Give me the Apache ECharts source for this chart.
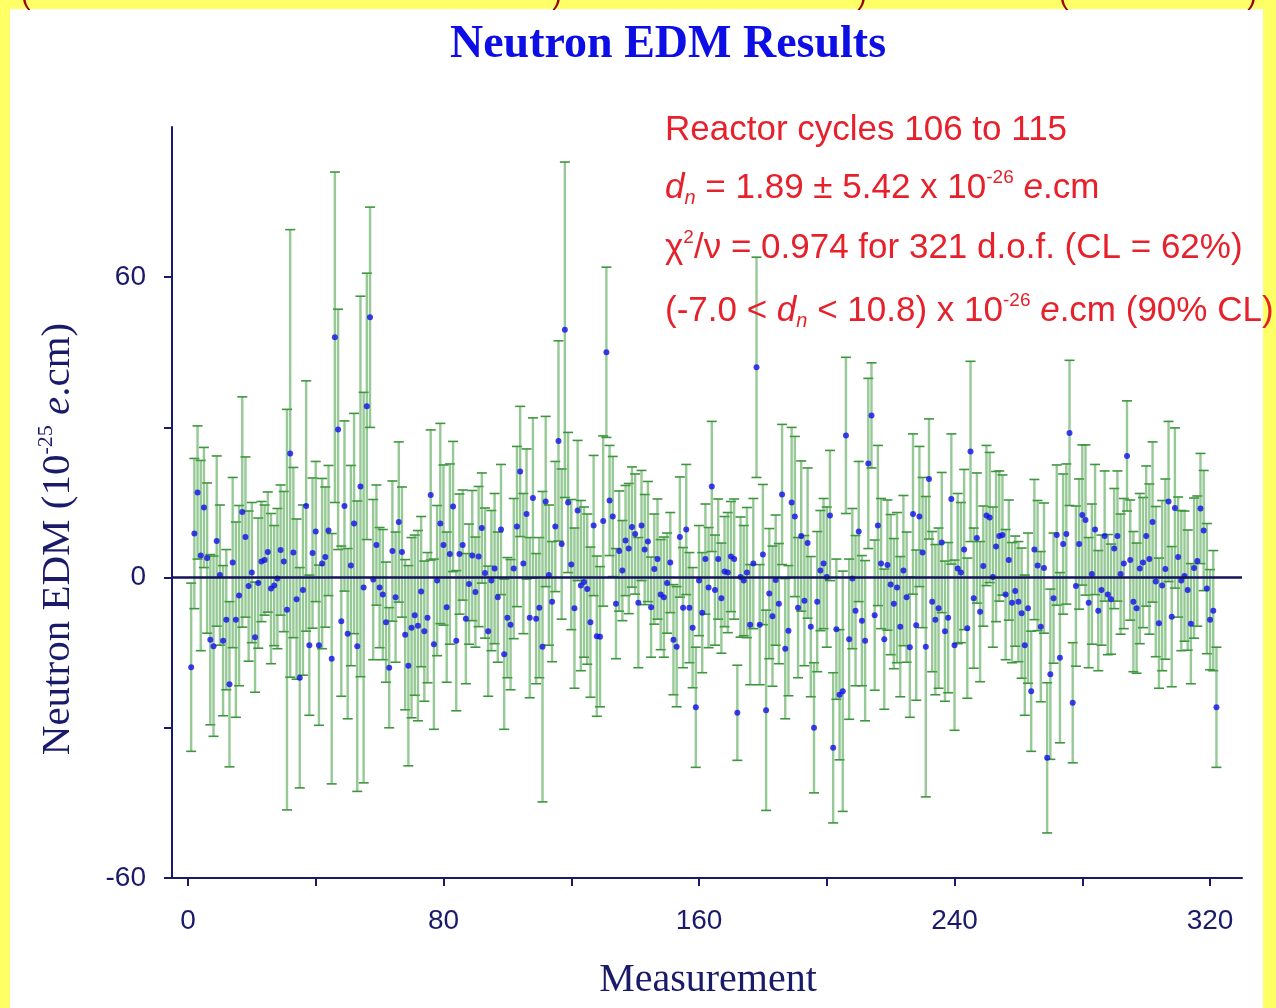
<!DOCTYPE html>
<html>
<head>
<meta charset="utf-8">
<script src="https://cdn.jsdelivr.net/npm/echarts@6/dist/echarts.min.js"></script>
<style>
  html, body { margin: 0; padding: 0; background: #ffff66; }
  #chart { width: 1276px; height: 1008px; }
</style>
</head>
<body>
<div id="chart"></div>
<script>
// Neutron EDM per measurement (units of 1e-25 e.cm), measurements 1..322
const edmValues = [
  -17.9, 8.8, 17, 4.4, 14, 3.9, -12.4, -13.7, 7.3, 0.5,
  -12.6, -8.4, -21.3, 3, -8.4, -3.6, 13.1, 8.1, -1.7, 1,
  -11.9, -1.1, 3.2, 3.5, 5.1, -2.2, -1.6, -0.2, 5.5, 3.2,
  -6.4, 24.8, 5, -4.3, -20, -2.5, 14.3, -13.5, 4.9, 9.2,
  -13.5, 2.8, 4.1, 9.4, -16.2, 48, 29.6, -8.7, 14.3, -11.2,
  2.4, 10.8, -13.7, 18.2, -2, 34.2, 52, -0.4, 6.5, -2,
  -3.4, -8.9, -18, 5.3, -3.9, 11.1, 5.1, -11.4, -17.6, -10,
  -7.5, -9.6, -2.8, -10.7, -8, 16.5, -13.3, -0.6, 10.8, 6.5,
  -5.9, 4.7, 14.2, -12.6, 4.7, 6.5, -8.2, -1.3, 4.4, -2.9,
  4.2, 9.9, 0.9, -10.7, -0.6, 1.8, -3.9, 9.6, -15.3, -8,
  -9.4, 1.8, 10.2, 21.2, 2.8, 12.7, -8, 15.9, -8.2, -6,
  -13.8, 15.2, 0.5, -4.8, 10.2, 27.3, 6.7, 49.5, 15, 2.6,
  -6.1, 13.4, -1.6, -0.9, -2.3, -8.9, 10.4, -11.7, -11.8, 11.3,
  45, 15.4, 12.2, -5.2, 5.3, 1.4, 7.4, 5.8, 10.1, 8.7,
  -5, 10.4, 5.6, 7.2, -5.9, 1.7, 3.7, -3.4, -3.9, -1.1,
  3, -12.4, -13.8, 8.1, -6, 9.6, -6, -10, -25.9, -0.6,
  -7, 3.7, -2, 18.2, -2.5, 3.7, -4.1, 1.2, 1, 4.2,
  3.7, -27, 0.1, -0.6, 1, -9.4, 2.8, 42, -9.4, 4.6,
  -26.5, -3.2, -7.7, -0.5, -5.2, 16.6, -14.2, -10.6, 15, 12.2,
  -6, 8.3, -4.6, 6.9, -9.8, -30, -4.8, 1.4, 2.8, 0.1,
  12.4, -34, -10.3, -23.4, -22.7, 28.4, -12.3, -0.2, -6.6, 9.2,
  -8.6, -12.6, 22.8, 32.4, -7.5, 10.4, 2.8, -12.3, 2.5, -1.4,
  -5.2, -2, -9.8, 1.4, -3.9, -13.9, 12.7, -9.5, 12.2, 5,
  -13.8, 19.7, -4.8, -8.4, -6.1, 7, -10.7, -8, 15.7, -13.5,
  1.8, 1, 5.6, -10.1, 25.2, -4.1, 7.9, -6.8, 2.3, 12.4,
  12, 0.1, 6.2, 8.3, 8.5, -3.4, 3.5, -5, -2.7, -4.8,
  -7.1, -13.5, -6.1, -22.7, 5.6, 2.4, -9.8, 1.9, -36, -19.3,
  -4.1, 8.5, -16, 6.7, 8.7, 28.9, -25, -1.7, 6.7, 12.5,
  11.5, -5, 0.7, 9.6, -6.6, -2.5, 8.3, -3.4, -4.3, 5.8,
  8.3, 0.7, 2.8, 24.3, 3.5, -4.8, -6.1, 1.8, 3, 8.3,
  3.7, 11.1, -0.8, -9.1, -1.6, 1.7, 15.2, -7.8, 13.9, 4.1,
  -0.6, 0.3, -2.5, -9.2, 1.9, 3.3, 13.8, 9.4, -2.2, -8.4,
  -6.6, -25.9
];

// One-sigma uncertainty of each measurement (same units)
const edmErrors = [
  16.8, 15, 13.3, 19, 12, 15, 17, 18, 17, 14,
  15, 14, 16.5, 17, 19.5, 18, 23, 16, 15, 14,
  11, 13, 12, 11, 12, 15, 12, 14, 13, 14,
  40, 44.7, 17, 16, 22, 17, 25, 14, 15, 14,
  16, 17, 14, 13, 25, 33, 24, 15, 17, 17,
  20, 22, 29, 38, 39, 26.6, 22, 16, 12, 12,
  13, 12, 12, 14, 13, 16, 13, 15, 20, 18,
  16, 19, 15, 14, 13, 13, 17, 15, 20, 16,
  15, 18, 13, 14, 12, 11, 13, 12, 13, 11,
  14, 11, 13, 13, 14, 15, 13, 13, 15, 12,
  13, 14, 16, 13, 14, 13, 16, 16, 13, 14,
  31, 17, 14, 12, 13, 20, 15, 33.5, 14, 13,
  16, 14, 17, 15, 15, 15, 14, 16, 14, 17,
  17, 11, 12, 11, 12, 10, 11, 13, 12, 12,
  13, 11, 11, 12, 10, 11, 12, 11, 12, 10,
  10, 11, 12, 12, 12, 13, 11, 12, 12, 11,
  12, 11, 12, 13, 11, 12, 11, 11, 12, 11,
  12, 9.5, 12, 11, 13, 12, 13, 22, 12, 14,
  20, 13, 14, 13, 12, 14, 14, 13, 15, 16,
  14, 15, 13, 15, 14, 13, 14, 12, 13, 14,
  13, 15, 14, 13, 24, 15.6, 16, 14, 15, 14,
  13, 16, 17, 10.5, 15, 16, 13, 14, 13, 14,
  13, 15, 14, 15, 13, 14, 16, 15, 14, 15,
  30, 12, 14, 15, 16, 14, 14, 15, 13, 17,
  15, 14, 16, 14, 18, 14, 13, 14, 12, 14,
  13, 14, 15, 13, 12, 13, 12, 12, 11, 12,
  13, 14, 15, 12, 14, 13, 15, 13, 15, 17,
  13, 14, 17, 14, 14, 14.5, 12, 16, 13, 14,
  15, 13, 14, 13, 12, 11, 13, 12, 11, 12,
  13, 12, 13, 11, 12, 14, 13, 15, 13, 14,
  15, 16, 15, 13, 17, 18, 16, 14, 16, 12,
  14, 13, 12, 12, 14, 13, 11, 12, 13, 10,
  12, 12
];

// Axis ticks and labels
const xTickValues = [0, 40, 80, 120, 160, 200, 240, 280, 320];
const xLabelValues = [0, 80, 160, 240, 320];
const yTickValues = [-60, -30, 0, 30, 60];
const yLabelValues = [-60, 0, 60];

const NAVY = '#1a1a6b';
const RED = '#e6212b';

const pointData = edmValues.map((v, i) => [i + 1, v]);
const barData = edmValues.map((v, i) => [i + 1, v, edmErrors[i]]);

// Vertical error bar with short caps at both ends
function renderErrorBar(params, api) {
  const x = api.value(0);
  const v = api.value(1);
  const e = api.value(2);
  const hi = api.coord([x, v + e]);
  const lo = api.coord([x, v - e]);
  const half = 5;
  const capStyle = { stroke: '#3d963d', lineWidth: 1.6 };
  return {
    type: 'group',
    children: [
      { type: 'line', shape: { x1: hi[0], y1: hi[1], x2: lo[0], y2: lo[1] },
        style: { stroke: 'rgba(80,165,80,0.6)', lineWidth: 2.4 } },
      { type: 'line', shape: { x1: hi[0] - half, y1: hi[1], x2: hi[0] + half, y2: hi[1] }, style: capStyle },
      { type: 'line', shape: { x1: lo[0] - half, y1: lo[1], x2: lo[0] + half, y2: lo[1] }, style: capStyle }
    ]
  };
}

const annFont = '"Liberation Sans", Arial, sans-serif';
const annRich = {
  b:   { fontSize: 35, fontFamily: annFont, fill: RED, color: RED, lineHeight: 40 },
  i:   { fontSize: 35, fontFamily: annFont, fontStyle: 'italic', fill: RED, color: RED, lineHeight: 40 },
  sub: { fontSize: 20, fontFamily: annFont, fontStyle: 'italic', fill: RED, color: RED, lineHeight: 14, verticalAlign: 'bottom' },
  sup: { fontSize: 19, fontFamily: annFont, fill: RED, color: RED, lineHeight: 14, verticalAlign: 'top' }
};
function annLine(text, y) {
  return {
    type: 'text', x: 665, y: y, z: 100,
    style: { text: text, rich: annRich, align: 'left', textAlign: 'left',
             verticalAlign: 'middle', textVerticalAlign: 'middle' }
  };
}

const serif = '"Liberation Serif", "Times New Roman", serif';
const axisRich = {
  a:   { fontSize: 41, fontFamily: serif, fill: NAVY, color: NAVY, lineHeight: 46 },
  i:   { fontSize: 41, fontFamily: serif, fontStyle: 'italic', fill: NAVY, color: NAVY, lineHeight: 46 },
  sup: { fontSize: 22, fontFamily: serif, fill: NAVY, color: NAVY, lineHeight: 16, verticalAlign: 'top' }
};

// Fragments of the slide line above, cut off at the top edge
const topMarks = [[26, '('], [557, ')'], [862, ')'], [1064, '('], [1252, ')']];

const chart = echarts.init(document.getElementById('chart'), null, { renderer: 'canvas' });

chart.setOption({
  animation: false,
  backgroundColor: '#ffff66',
  grid: { left: 172, right: 34, top: 127, bottom: 130 },
  xAxis: {
    type: 'value', min: -5, max: 330,
    splitLine: { show: false },
    axisLine: { show: true, onZero: false, lineStyle: { color: NAVY, width: 2 } },
    axisTick: { show: true, customValues: xTickValues, length: 8, lineStyle: { color: NAVY, width: 2 } },
    axisLabel: { customValues: xLabelValues, margin: 29, fontSize: 28,
                 fontFamily: '"Liberation Sans", Arial, sans-serif', color: NAVY }
  },
  yAxis: {
    type: 'value', min: -60, max: 90,
    splitLine: { show: false },
    axisLine: { show: true, onZero: false, lineStyle: { color: NAVY, width: 2 } },
    axisTick: { show: true, customValues: yTickValues, length: 8, lineStyle: { color: NAVY, width: 2 } },
    axisLabel: { customValues: yLabelValues, margin: 26, fontSize: 28,
                 fontFamily: '"Liberation Sans", Arial, sans-serif', color: NAVY }
  },
  series: [
    {
      type: 'custom',
      renderItem: renderErrorBar,
      data: barData,
      encode: { x: 0, y: 1 },
      z: 2
    },
    {
      type: 'scatter',
      data: pointData,
      symbol: 'circle',
      symbolSize: 6,
      itemStyle: { color: '#1010ea' },
      z: 3,
      markLine: {
        silent: true,
        symbol: ['none', 'none'],
        label: { show: false },
        lineStyle: { color: '#14145e', width: 2.5, type: 'solid' },
        data: [{ yAxis: 0 }]
      }
    }
  ],
  graphic: [
    { type: 'rect', z: -10, shape: { x: 10, y: 9, width: 1253, height: 1000 }, style: { fill: '#ffffff' } },
    ...topMarks.map(([x, ch]) => ({
      type: 'text', x: x, y: 10, z: -5,
      style: { text: ch, font: '28px ' + annFont, fill: '#990000',
               align: 'center', textAlign: 'center', verticalAlign: 'bottom', textVerticalAlign: 'bottom' }
    })),
    {
      type: 'text', x: 668, y: 45, z: 100,
      style: { text: 'Neutron EDM Results', font: 'bold 46px ' + serif, fill: '#0d0de6',
               align: 'center', textAlign: 'center', verticalAlign: 'middle', textVerticalAlign: 'middle' }
    },
    {
      type: 'text', x: 58, y: 539, rotation: Math.PI / 2, z: 100,
      style: { text: '{a|Neutron EDM (10}{sup|-25}{a| }{i|e}{a|.cm)}', rich: axisRich,
               align: 'center', textAlign: 'center', verticalAlign: 'middle', textVerticalAlign: 'middle' }
    },
    {
      type: 'text', x: 708, y: 980, z: 100,
      style: { text: 'Measurement', font: '40px ' + serif, fill: NAVY,
               align: 'center', textAlign: 'center', verticalAlign: 'middle', textVerticalAlign: 'middle' }
    },
    annLine('{b|Reactor cycles 106 to 115}', 130),
    annLine('{i|d}{sub|n}{b| = 1.89 ± 5.42 x 10}{sup|-26}{b| }{i|e}{b|.cm}', 188),
    annLine('{b|χ}{sup|2}{b|/ν = 0.974 for 321 d.o.f. (CL = 62%)}', 248),
    annLine('{b|(-7.0 < }{i|d}{sub|n}{b| < 10.8) x 10}{sup|-26}{b| }{i|e}{b|.cm (90% CL)}', 311)
  ]
});
</script>
</body>
</html>
